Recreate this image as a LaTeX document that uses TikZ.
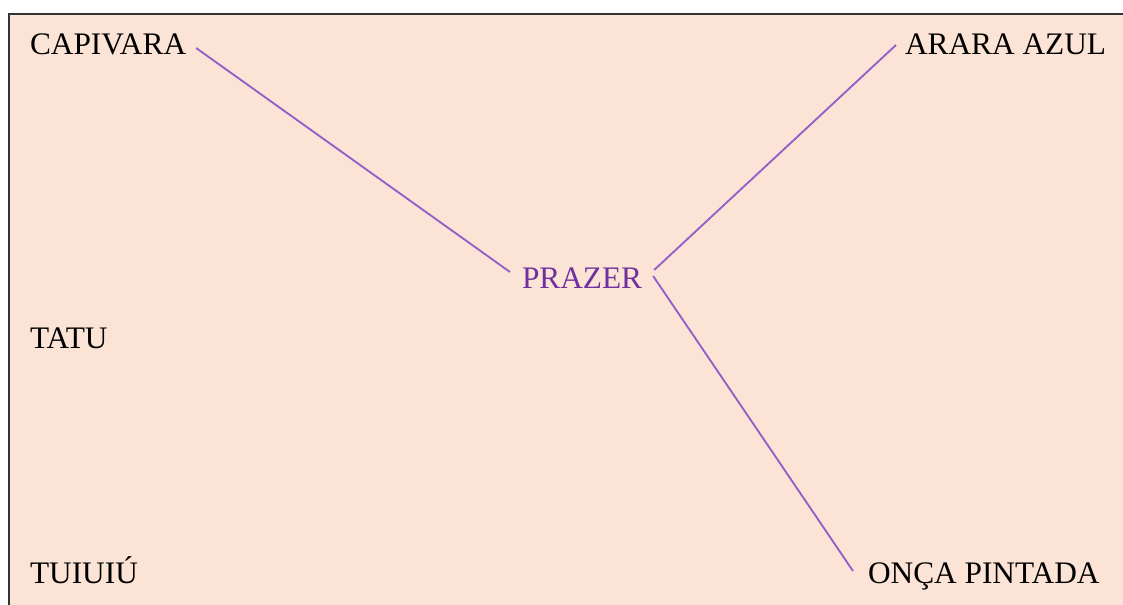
\documentclass[tikz,border=0pt]{standalone}
\usepackage{fontspec}
\setmainfont{Liberation Serif}
\definecolor{peach}{HTML}{FBE4D5}
\definecolor{frame}{HTML}{333333}
\definecolor{purpletext}{HTML}{7030A0}
\definecolor{purpleline}{HTML}{9160C8}
\begin{document}
\begin{tikzpicture}[x=0.75pt,y=-0.75pt,
  lbl/.style={inner sep=0pt, outer sep=0pt, anchor=base west, font=\fontsize{23.5}{28}\selectfont, text=black},
  centre/.style={lbl, text=purpletext},
  link/.style={draw=purpleline, line width=1.4pt}]
\clip (0,0) rectangle (1123,604);
\fill[white] (0,0) rectangle (1123,604);
\draw[fill=peach, draw=frame, line width=1.5pt] (9,14) rectangle (1140,640);

\node[lbl] (cap) at (30,54) {CAPIVARA};
\node[lbl] (arara) at (905,54) {ARARA AZUL};
\node[centre] (prazer) at (522,288) {PRAZER};
\node[lbl] (tatu) at (30,348) {TATU};
\node[lbl] (tuiuiu) at (30,583) {TUIUIÚ};
\node[lbl] (onca) at (868,583) {ONÇA PINTADA};

\draw[link] ([shift={(10,-6)}]cap.base east) -- ([shift={(-12,-16)}]prazer.base west);
\draw[link] ([shift={(12,-18)}]prazer.base east) -- ([shift={(-9,-9)}]arara.base west);
\draw[link] ([shift={(11,-12)}]prazer.base east) -- ([shift={(-15,-12)}]onca.base west);
\end{tikzpicture}
\end{document}
